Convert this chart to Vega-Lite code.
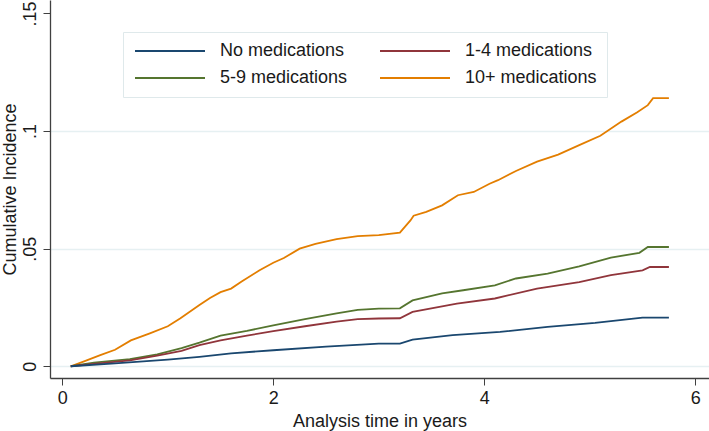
{
  "$schema": "https://vega.github.io/schema/vega-lite/v6.json",
  "width": 659,
  "height": 378,
  "autosize": {"type": "none"},
  "padding": {"left": 50, "top": 0, "right": 0, "bottom": 53},
  "background": "white",
  "config": {
    "view": {"stroke": null},
    "font": "Liberation Sans"
  },
  "data": {
    "values": [
      {"g": "10+ medications", "t": 0.08, "ci": 0},
      {"g": "10+ medications", "t": 0.2, "ci": 0.002},
      {"g": "10+ medications", "t": 0.36, "ci": 0.0047},
      {"g": "10+ medications", "t": 0.5, "ci": 0.007},
      {"g": "10+ medications", "t": 0.65, "ci": 0.011},
      {"g": "10+ medications", "t": 0.83, "ci": 0.014},
      {"g": "10+ medications", "t": 1.0, "ci": 0.017},
      {"g": "10+ medications", "t": 1.12, "ci": 0.0204},
      {"g": "10+ medications", "t": 1.3, "ci": 0.026},
      {"g": "10+ medications", "t": 1.4, "ci": 0.029},
      {"g": "10+ medications", "t": 1.5, "ci": 0.0315},
      {"g": "10+ medications", "t": 1.6, "ci": 0.033},
      {"g": "10+ medications", "t": 1.7, "ci": 0.036},
      {"g": "10+ medications", "t": 1.87, "ci": 0.0408},
      {"g": "10+ medications", "t": 2.0, "ci": 0.044},
      {"g": "10+ medications", "t": 2.1, "ci": 0.046},
      {"g": "10+ medications", "t": 2.25, "ci": 0.05},
      {"g": "10+ medications", "t": 2.4, "ci": 0.052},
      {"g": "10+ medications", "t": 2.6, "ci": 0.054},
      {"g": "10+ medications", "t": 2.8, "ci": 0.0553},
      {"g": "10+ medications", "t": 3.0, "ci": 0.0557},
      {"g": "10+ medications", "t": 3.2, "ci": 0.0568},
      {"g": "10+ medications", "t": 3.3, "ci": 0.062},
      {"g": "10+ medications", "t": 3.33, "ci": 0.064},
      {"g": "10+ medications", "t": 3.45, "ci": 0.0656},
      {"g": "10+ medications", "t": 3.6, "ci": 0.0684},
      {"g": "10+ medications", "t": 3.75, "ci": 0.0727},
      {"g": "10+ medications", "t": 3.9, "ci": 0.0741},
      {"g": "10+ medications", "t": 4.05, "ci": 0.0776},
      {"g": "10+ medications", "t": 4.13, "ci": 0.0791},
      {"g": "10+ medications", "t": 4.3, "ci": 0.083},
      {"g": "10+ medications", "t": 4.5, "ci": 0.087},
      {"g": "10+ medications", "t": 4.7, "ci": 0.09},
      {"g": "10+ medications", "t": 4.9, "ci": 0.094},
      {"g": "10+ medications", "t": 5.1, "ci": 0.098},
      {"g": "10+ medications", "t": 5.3, "ci": 0.104},
      {"g": "10+ medications", "t": 5.45, "ci": 0.108},
      {"g": "10+ medications", "t": 5.55, "ci": 0.111},
      {"g": "10+ medications", "t": 5.6, "ci": 0.114},
      {"g": "10+ medications", "t": 5.75, "ci": 0.114},

      {"g": "5-9 medications", "t": 0.08, "ci": 0},
      {"g": "5-9 medications", "t": 0.3, "ci": 0.0015},
      {"g": "5-9 medications", "t": 0.64, "ci": 0.003},
      {"g": "5-9 medications", "t": 0.9, "ci": 0.005},
      {"g": "5-9 medications", "t": 1.13, "ci": 0.0077},
      {"g": "5-9 medications", "t": 1.3, "ci": 0.01},
      {"g": "5-9 medications", "t": 1.5, "ci": 0.013},
      {"g": "5-9 medications", "t": 1.75, "ci": 0.015},
      {"g": "5-9 medications", "t": 2.0, "ci": 0.0174},
      {"g": "5-9 medications", "t": 2.3, "ci": 0.02},
      {"g": "5-9 medications", "t": 2.6, "ci": 0.0225},
      {"g": "5-9 medications", "t": 2.8, "ci": 0.024},
      {"g": "5-9 medications", "t": 3.0, "ci": 0.0245},
      {"g": "5-9 medications", "t": 3.2, "ci": 0.0246},
      {"g": "5-9 medications", "t": 3.32, "ci": 0.028},
      {"g": "5-9 medications", "t": 3.6, "ci": 0.031},
      {"g": "5-9 medications", "t": 3.8, "ci": 0.0323},
      {"g": "5-9 medications", "t": 4.1, "ci": 0.0344},
      {"g": "5-9 medications", "t": 4.3, "ci": 0.0373},
      {"g": "5-9 medications", "t": 4.6, "ci": 0.0394},
      {"g": "5-9 medications", "t": 4.9, "ci": 0.0425},
      {"g": "5-9 medications", "t": 5.2, "ci": 0.0462},
      {"g": "5-9 medications", "t": 5.47, "ci": 0.0482},
      {"g": "5-9 medications", "t": 5.55, "ci": 0.0507},
      {"g": "5-9 medications", "t": 5.75, "ci": 0.0507},

      {"g": "1-4 medications", "t": 0.08, "ci": 0},
      {"g": "1-4 medications", "t": 0.3, "ci": 0.001},
      {"g": "1-4 medications", "t": 0.64, "ci": 0.0025},
      {"g": "1-4 medications", "t": 0.9, "ci": 0.0045},
      {"g": "1-4 medications", "t": 1.13, "ci": 0.0065},
      {"g": "1-4 medications", "t": 1.3, "ci": 0.009},
      {"g": "1-4 medications", "t": 1.5, "ci": 0.011},
      {"g": "1-4 medications", "t": 1.75, "ci": 0.013},
      {"g": "1-4 medications", "t": 2.0, "ci": 0.0149},
      {"g": "1-4 medications", "t": 2.3, "ci": 0.017},
      {"g": "1-4 medications", "t": 2.6, "ci": 0.019},
      {"g": "1-4 medications", "t": 2.8, "ci": 0.02},
      {"g": "1-4 medications", "t": 3.0, "ci": 0.0203},
      {"g": "1-4 medications", "t": 3.2, "ci": 0.0204},
      {"g": "1-4 medications", "t": 3.32, "ci": 0.0231},
      {"g": "1-4 medications", "t": 3.74, "ci": 0.0266},
      {"g": "1-4 medications", "t": 4.1, "ci": 0.0288},
      {"g": "1-4 medications", "t": 4.5, "ci": 0.033},
      {"g": "1-4 medications", "t": 4.9, "ci": 0.0358},
      {"g": "1-4 medications", "t": 5.2, "ci": 0.0387},
      {"g": "1-4 medications", "t": 5.5, "ci": 0.0408},
      {"g": "1-4 medications", "t": 5.57, "ci": 0.0422},
      {"g": "1-4 medications", "t": 5.75, "ci": 0.0422},

      {"g": "No medications", "t": 0.08, "ci": 0},
      {"g": "No medications", "t": 0.5, "ci": 0.0012},
      {"g": "No medications", "t": 1.0, "ci": 0.0028},
      {"g": "No medications", "t": 1.3, "ci": 0.004},
      {"g": "No medications", "t": 1.6, "ci": 0.0055},
      {"g": "No medications", "t": 2.0, "ci": 0.0068},
      {"g": "No medications", "t": 2.5, "ci": 0.0083},
      {"g": "No medications", "t": 3.0, "ci": 0.0096},
      {"g": "No medications", "t": 3.2, "ci": 0.0096},
      {"g": "No medications", "t": 3.32, "ci": 0.0113},
      {"g": "No medications", "t": 3.7, "ci": 0.0132},
      {"g": "No medications", "t": 4.15, "ci": 0.0146},
      {"g": "No medications", "t": 4.6, "ci": 0.0167},
      {"g": "No medications", "t": 5.05, "ci": 0.0184},
      {"g": "No medications", "t": 5.5, "ci": 0.0207},
      {"g": "No medications", "t": 5.75, "ci": 0.0207}
    ]
  },
  "mark": {"type": "line", "strokeWidth": 1.8, "clip": true},
  "encoding": {
    "x": {
      "field": "t",
      "type": "quantitative",
      "scale": {"domain": [-0.1166, 6.13], "nice": false, "zero": false},
      "axis": {
        "values": [0, 2, 4, 6],
        "grid": false,
        "title": "Analysis time in years",
        "titleFont": "Liberation Sans",
        "titleFontSize": 18,
        "titleFontWeight": "normal",
        "titleColor": "#1a1a1a",
        "titleBaseline": "alphabetic",
        "titleY": 48,
        "labelFont": "Liberation Sans",
        "labelFontSize": 18,
        "labelColor": "#1a1a1a",
        "labelPadding": 4,
        "labelFlush": false,
        "tickSize": 7,
        "tickColor": "#404040",
        "domainColor": "#404040",
        "domainWidth": 1.3
      }
    },
    "y": {
      "field": "ci",
      "type": "quantitative",
      "scale": {"domain": [-0.005, 0.1557], "nice": false, "zero": false},
      "axis": {
        "values": [0, 0.05, 0.1, 0.15],
        "labelExpr": "datum.value == 0 ? '0' : replace(format(datum.value, '.2~f'), '0.', '.')",
        "grid": true,
        "gridColor": {"condition": {"test": "datum.value > 0.12", "value": "transparent"}, "value": "#e6f0f2"},
        "gridWidth": 1.3,
        "title": "Cumulative Incidence",
        "titleFont": "Liberation Sans",
        "titleFontSize": 18,
        "titleFontWeight": "normal",
        "titleColor": "#1a1a1a",
        "titleAngle": -90,
        "titleBaseline": "alphabetic",
        "titleX": -35,
        "labelFont": "Liberation Sans",
        "labelFontSize": 18,
        "labelColor": "#1a1a1a",
        "labelAngle": -90,
        "labelAlign": "center",
        "labelBaseline": "alphabetic",
        "labelPadding": 8,
        "labelFlush": false,
        "tickSize": 7,
        "tickColor": "#404040",
        "domainColor": "#404040",
        "domainWidth": 1.3
      }
    },
    "color": {
      "field": "g",
      "type": "nominal",
      "scale": {
        "domain": ["No medications", "1-4 medications", "5-9 medications", "10+ medications"],
        "range": ["#1a476f", "#90353b", "#55752f", "#e37e00"]
      },
      "legend": {
        "title": null,
        "orient": "none",
        "legendX": 73,
        "legendY": 32,
        "columns": 2,
        "direction": "horizontal",
        "symbolType": "M-1,0H9",
        "symbolSize": 196,
        "symbolStrokeWidth": 2,
        "labelFont": "Liberation Sans",
        "labelFontSize": 18,
        "labelColor": "#1a1a1a",
        "labelOffset": 69,
        "labelLimit": 300,
        "columnPadding": 28,
        "rowPadding": 9,
        "padding": 10,
        "strokeColor": "#dfe9eb",
        "fillColor": "white"
      }
    }
  }
}
